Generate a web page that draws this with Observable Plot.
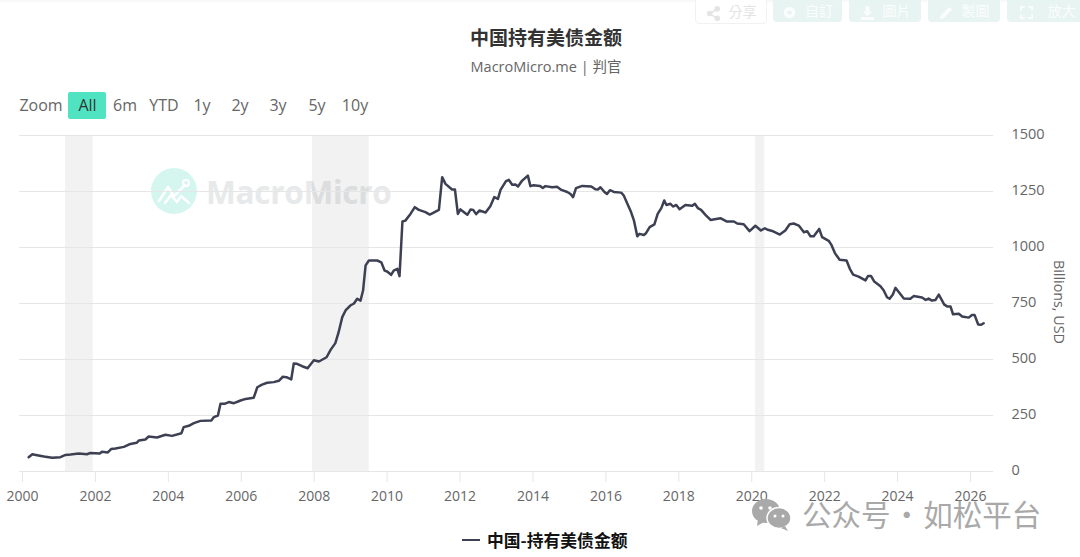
<!DOCTYPE html>
<html><head><meta charset="utf-8">
<script src="https://cdn.jsdelivr.net/npm/d3@7"></script>
<script src="https://cdn.jsdelivr.net/npm/@observablehq/plot@0.6"></script>
<style>
html,body{margin:0;padding:0;background:#fff;width:1080px;height:557px;overflow:hidden;font-family:"Open Sans","Noto Sans CJK SC",sans-serif;color:#666}
.a{position:absolute;white-space:nowrap;line-height:1}
#shadow{left:0;top:0;width:1080px;height:3px;background:linear-gradient(#f6f6f6,#fff)}
.btn{position:absolute;top:-12px;height:32px;border-radius:4px;background:#e8f4f2;color:#fbfdfd;font:14px "Noto Sans CJK TC";display:flex;align-items:flex-end;justify-content:center;gap:8px;padding-bottom:2px;box-sizing:content-box}
.btn.w{background:#fff;border:1px solid #f1f1f1;color:#e4e4e4}
.btn svg{width:15px;height:15px;fill:currentColor}
.rs{top:97px;font-size:16px;color:#666;transform:translateX(-50%)}
#chart{position:absolute;left:0;top:120px;z-index:2}
#chart svg{background:transparent}
</style></head><body>
<div class="a" id="shadow"></div>
<div class="btn w" style="left:695px;width:70px"><svg viewBox="0 0 16 16"><circle cx="12" cy="3" r="3"/><circle cx="12" cy="13" r="3"/><circle cx="4" cy="8" r="3"/><path d="M4 7L12 2.500L12.500 4L5 8.500L12.500 12L12 14L4 9Z"/></svg><span>分享</span></div>
<div class="btn" style="left:773px;width:69px"><svg viewBox="0 0 16 16"><circle cx="8" cy="8" r="6"/><circle cx="8" cy="8" r="2.500" fill="#e8f4f2"/></svg><span>自訂</span></div>
<div class="btn" style="left:849px;width:72px"><svg viewBox="0 0 16 16"><path d="M6 1h4v6h3l-5 5-5-5h3z"/><path d="M1 13h14v3H1z"/></svg><span>圖片</span></div>
<div class="btn" style="left:928px;width:72px"><svg viewBox="0 0 16 16"><path d="M1 15l1-4 9-9 3 3-9 9z"/></svg><span>製圖</span></div>
<div class="btn" style="left:1007px;width:80px;gap:14px"><svg viewBox="0 0 16 16"><path d="M1 1h5v2H3v3H1zM10 1h5v5h-2V3h-3zM1 10h2v3h3v2H1zM13 10h2v5h-5v-2h3z"/></svg><span>放大</span></div>

<div class="a" id="title" style="left:546px;top:23px;transform:translateX(-50%);font:700 19px 'Noto Sans CJK SC';color:#333">中国持有美债金额</div>
<div class="a" id="sub" style="left:546px;top:55px;transform:translateX(-50%);font:14.500px 'Open Sans','Noto Sans CJK SC';color:#666">MacroMicro.me | 判官</div>

<div class="a rs" style="left:41px">Zoom</div>
<div class="a" style="left:68px;top:92px;width:38px;height:27px;background:#4fe3c1;border-radius:2px"></div>
<div class="a rs" style="left:87.500px;color:#333">All</div>
<div class="a rs" style="left:125px">6m</div>
<div class="a rs" style="left:164px">YTD</div>
<div class="a rs" style="left:202px">1y</div>
<div class="a rs" style="left:240px">2y</div>
<div class="a rs" style="left:278px">3y</div>
<div class="a rs" style="left:317px">5y</div>
<div class="a rs" style="left:355px">10y</div>

<svg class="a" style="left:151px;top:168px" width="46" height="46" viewBox="0 0 46 46">
  <circle cx="23" cy="23" r="23" fill="#d4f6ef"/>
  <path d="M8 33L17 19L23 28L34 17" fill="none" stroke="#fff" stroke-width="2.500" stroke-linecap="round" stroke-linejoin="round"/>
  <path d="M14 35L20 27L26 34L30 28L38 35" fill="none" stroke="#fff" stroke-width="2.500" stroke-linecap="round" stroke-linejoin="round"/>
  <circle cx="35" cy="15" r="3" fill="none" stroke="#fff" stroke-width="2"/>
</svg>
<div class="a" style="left:206px;top:170px;font:700 31.600px 'Open Sans';color:#e7e9ea;letter-spacing:-.3px">MacroMicro</div>

<div id="chart"></div>

<div class="a" style="left:1052px;top:260px;writing-mode:vertical-rl;font-size:14.300px;color:#666">Billions, USD</div>
<div class="a" style="left:462px;top:539px;width:18px;height:2px;background:#3d4053"></div>
<div class="a" id="legend" style="left:487px;top:527.500px;font:700 16.800px 'Noto Sans CJK SC';color:#111">中国-持有美债金额</div>

<svg class="a" style="left:751px;top:498px;z-index:3" width="42" height="34" viewBox="0 0 42 34">
  <ellipse cx="15" cy="13" rx="14" ry="12" fill="#a9a9a9"/><path d="M7 21l-1 7 7-4z" fill="#a9a9a9"/>
  <ellipse cx="28" cy="20" rx="12" ry="10.500" fill="#a9a9a9" stroke="#fff" stroke-width="1.500"/><path d="M34 28l3 5-7-3z" fill="#a9a9a9"/>
  <circle cx="10" cy="10" r="1.800" fill="#fff"/><circle cx="19" cy="10" r="1.800" fill="#fff"/><circle cx="24" cy="18" r="1.500" fill="#fff"/><circle cx="32" cy="18" r="1.500" fill="#fff"/>
</svg>
<div class="a" style="left:802px;top:492px;z-index:3;font:400 29.500px 'Noto Sans CJK SC';color:#a9a9a9;word-spacing:-5px">公众号 · 如松平台</div>

<script>
const years = [2000.17,2000.27,2000.40,2000.59,2000.81,2001.04,2001.18,2001.32,2001.54,2001.77,2001.86,2002.12,2002.18,2002.34,2002.43,2002.55,2002.78,2002.96,2003.13,2003.19,2003.37,2003.46,2003.69,2003.92,2004.10,2004.36,2004.42,2004.56,2004.70,2004.88,2005.18,2005.25,2005.36,2005.43,2005.54,2005.66,2005.80,2005.98,2006.12,2006.34,2006.44,2006.57,2006.71,2006.89,2007.03,2007.14,2007.24,2007.37,2007.44,2007.53,2007.67,2007.82,2007.99,2008.13,2008.34,2008.45,2008.58,2008.67,2008.77,2008.86,2008.99,2009.09,2009.18,2009.27,2009.34,2009.41,2009.50,2009.73,2009.84,2009.93,2010.00,2010.11,2010.18,2010.28,2010.34,2010.42,2010.50,2010.64,2010.76,2010.87,2011.05,2011.17,2011.42,2011.51,2011.60,2011.78,2011.86,2011.94,2012.01,2012.20,2012.29,2012.36,2012.44,2012.53,2012.70,2012.83,2012.94,2013.04,2013.11,2013.26,2013.34,2013.43,2013.52,2013.59,2013.69,2013.86,2013.93,2014.02,2014.19,2014.27,2014.34,2014.53,2014.66,2014.78,2014.94,2015.03,2015.10,2015.18,2015.35,2015.60,2015.71,2015.78,2015.85,2015.96,2016.03,2016.11,2016.22,2016.42,2016.49,2016.58,2016.69,2016.77,2016.86,2016.92,2017.04,2017.10,2017.20,2017.33,2017.42,2017.52,2017.60,2017.66,2017.77,2017.84,2017.93,2018.02,2018.18,2018.37,2018.44,2018.52,2018.61,2018.73,2018.87,2019.14,2019.32,2019.51,2019.60,2019.78,2019.94,2020.10,2020.25,2020.36,2020.44,2020.56,2020.77,2020.92,2021.04,2021.15,2021.29,2021.43,2021.52,2021.61,2021.70,2021.85,2021.93,2022.11,2022.18,2022.28,2022.41,2022.60,2022.69,2022.78,2022.93,2023.12,2023.19,2023.27,2023.36,2023.53,2023.62,2023.71,2023.78,2023.87,2023.94,2024.17,2024.35,2024.44,2024.67,2024.77,2024.85,2024.94,2025.04,2025.13,2025.28,2025.36,2025.45,2025.52,2025.68,2025.77,2025.95,2026.04,2026.11,2026.21,2026.29,2026.36];
const holdings = [64,77,73,67,61,64,74,76,80,77,83,80,88,85,100,103,110,123,128,138,143,156,152,164,159,171,198,204,216,226,228,243,250,302,302,310,305,317,324,329,376,388,396,399,405,423,421,411,482,481,470,461,497,491,510,543,573,622,689,719,741,750,771,763,808,920,942,942,934,897,893,878,897,905,872,1116,1120,1150,1180,1168,1158,1147,1168,1314,1284,1259,1259,1150,1170,1146,1170,1168,1149,1165,1156,1184,1225,1217,1257,1296,1302,1280,1281,1272,1296,1321,1274,1278,1275,1266,1274,1269,1271,1257,1248,1239,1225,1265,1275,1272,1260,1259,1269,1248,1239,1256,1248,1245,1232,1199,1158,1120,1050,1061,1056,1064,1091,1103,1150,1176,1210,1190,1195,1183,1190,1171,1190,1186,1195,1176,1168,1146,1123,1131,1116,1116,1107,1104,1073,1097,1076,1086,1079,1074,1058,1076,1104,1107,1098,1068,1073,1050,1050,1083,1046,1030,1013,975,945,942,905,879,870,853,873,873,848,827,808,778,771,790,820,772,771,783,777,766,772,763,766,790,745,737,737,702,704,692,687,699,699,656,655,662];
const recessionStart = [2001.18,2007.95,2020.10];
const recessionEnd = [2001.94,2009.51,2020.36];
const xTicks = [2000,2002,2004,2006,2008,2010,2012,2014,2016,2018,2020,2022,2024,2026];
const yTicks = [0,250,500,750,1000,1250,1500];

const series = years.map((y,i)=>({year:y,value:holdings[i]}));
const bands = recessionStart.map((s,i)=>({x1:s,x2:recessionEnd[i]}));

const chart = Plot.plot({
  width:1080, height:390,
  marginLeft:19, marginRight:87, marginTop:15, marginBottom:39,
  style:{fontFamily:"'Open Sans',sans-serif",background:"transparent",overflow:"visible"},
  x:{domain:[1999.918,2026.63]},
  y:{domain:[0,1500]},
  marks:[
    Plot.rect(bands,{x1:"x1",x2:"x2",y1:0,y2:1500,fill:"#000",fillOpacity:0.05}),
    Plot.gridY(yTicks,{stroke:"#e6e6e6",strokeOpacity:1,strokeWidth:1}),
    Plot.axisX(xTicks,{tickFormat:d=>String(d),tickSize:11,tickPadding:9,stroke:"#e6e6e6",fill:"#666",fontSize:14,label:null}),
    Plot.axisY(yTicks,{anchor:"right",tickSize:0,tickPadding:18,textAnchor:"start",tickFormat:d=>String(d),dy:-1,fill:"#666",fontSize:14.500,label:null}),
    Plot.line(series,{x:"year",y:"value",stroke:"#3d4053",strokeWidth:2.500,curve:"linear"})
  ]
});
document.getElementById("chart").appendChild(chart);
</script>
</body></html>
